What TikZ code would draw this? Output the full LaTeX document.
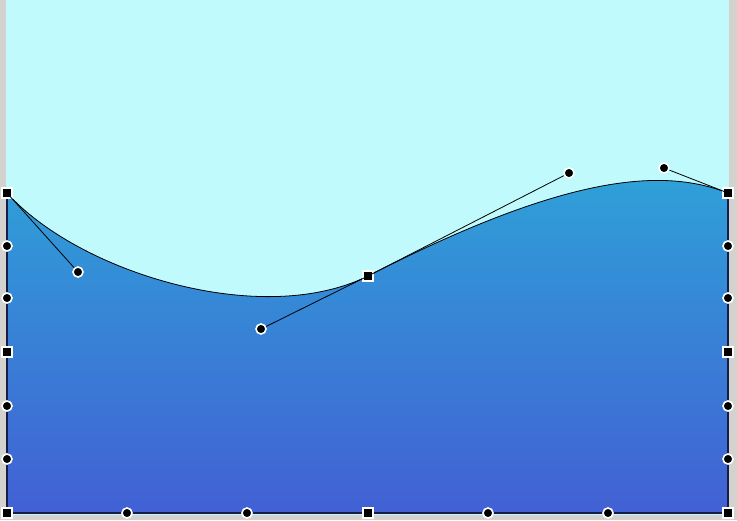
\documentclass[tikz,border=0pt]{standalone}
\definecolor{bgcyan}{RGB}{192,250,252}
\definecolor{framegray}{RGB}{212,210,206}
\definecolor{wavetop}{RGB}{46,162,216}
\definecolor{wavebot}{RGB}{66,96,212}
\definecolor{edgenavy}{RGB}{20,30,70}
\tikzset{
  sqh/.style={draw=white, line width=1.5pt, fill=black, minimum size=10pt, inner sep=0pt, rectangle},
  cih/.style={draw=white, line width=1.6pt, fill=black, minimum size=10pt, inner sep=0pt, circle},
  handleline/.style={draw=black, line width=0.8pt},
}
\begin{document}
\begin{tikzpicture}[x=1pt,y=-1pt]
\useasboundingbox (0,0) rectangle (737,520);
\fill[framegray] (0,0) rectangle (737,520);
\fill[bgcyan] (6,0) rectangle (729,515);
% wave fill
\shade[top color=wavetop, bottom color=wavebot]
  (7,193) .. controls (78,272) and (261,329) .. (368,276)
  .. controls (569,173) and (664,168) .. (728,193)
  -- (728,513) -- (7,513) -- cycle;
\draw[black, line width=0.8pt]
  (7,193) .. controls (78,272) and (261,329) .. (368,276)
  .. controls (569,173) and (664,168) .. (728,193);
\draw[edgenavy, line width=1.2pt] (7,193) -- (7,513) -- (728,513) -- (728,193);
% handle nodes
\node[sqh] (p0) at (7,193) {};
\node[sqh] (p1) at (368,276) {};
\node[sqh] (p2) at (728,193) {};
\node[cih] (c1) at (78,272) {};
\node[cih] (c2) at (261,329) {};
\node[cih] (c3) at (569,173) {};
\node[cih] (c4) at (664,168) {};
\draw[handleline] (p0.center) -- (c1);
\draw[handleline] (c2) -- (p1.center) -- (c3);
\draw[handleline] (c4) -- (p2.center);
% bounding handles
\node[sqh] (bl) at (7,513) {};
\node[sqh] (bm) at (368,513) {};
\node[sqh] (br) at (728,513) {};
\node[sqh] (ml) at (7,352) {};
\node[sqh] (mr) at (728,352) {};
\foreach \y [count=\i] in {246,298,406,459} {
  \node[cih] (l\i) at (7,\y) {};
  \node[cih] (r\i) at (728,\y) {};
}
\foreach \x [count=\i] in {127,247,488,608} {
  \node[cih] (b\i) at (\x,513) {};
}
\end{tikzpicture}
\end{document}
